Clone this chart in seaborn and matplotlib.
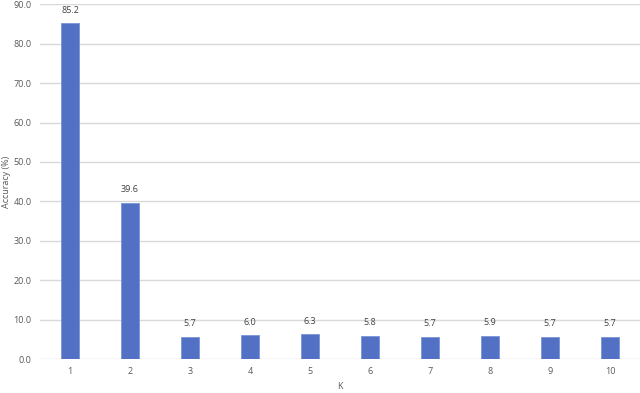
import matplotlib
matplotlib.use("Agg")
from matplotlib import pyplot as plt
import seaborn as sns
import pandas as pd

k_values = ["1", "2", "3", "4", "5", "6", "7", "8", "9", "10"]
accuracy = [85.2, 39.6, 5.7, 6.0, 6.3, 5.8, 5.7, 5.9, 5.7, 5.7]
y_ticks = [0, 10, 20, 30, 40, 50, 60, 70, 80, 90]

df = pd.DataFrame({"K": k_values, "Accuracy": accuracy})

sns.set_theme(style="white")
plt.rcParams["font.family"] = ["Open Sans", "DejaVu Sans"]

fig = plt.figure(figsize=(6.4, 3.93), dpi=100)
ax = fig.add_axes([0.0625, 0.0865, 0.9375, 0.9025])

# light horizontal gridlines behind the bars, like the spreadsheet default
ax.set_axisbelow(True)
ax.yaxis.grid(True, color="#d9d9d9", linewidth=1.0)
sns.barplot(data=df, x="K", y="Accuracy", color="#5271C4", width=0.3,
            saturation=1, edgecolor="#7a93d8", linewidth=0.6, ax=ax)

for i, v in enumerate(accuracy):
    ax.text(i, v + 2.2, f"{v:.1f}", ha="center", va="bottom",
            fontsize=6.5, color="#404040")

ax.set_ylim(0, 90)
ax.set_xlim(-0.5, 9.5)
ax.set_yticks(y_ticks)
ax.set_yticklabels([f"{t:.1f}" for t in y_ticks])
ax.tick_params(axis="both", labelsize=6.5, colors="#595959", length=0, pad=6)
ax.set_xlabel("K", fontsize=6.5, color="#595959", labelpad=4)
ax.set_ylabel("Accuracy (%)", fontsize=6.5, color="#595959", labelpad=2)
for s in ax.spines.values():
    s.set_visible(False)

fig.savefig("out.png", dpi=100)
